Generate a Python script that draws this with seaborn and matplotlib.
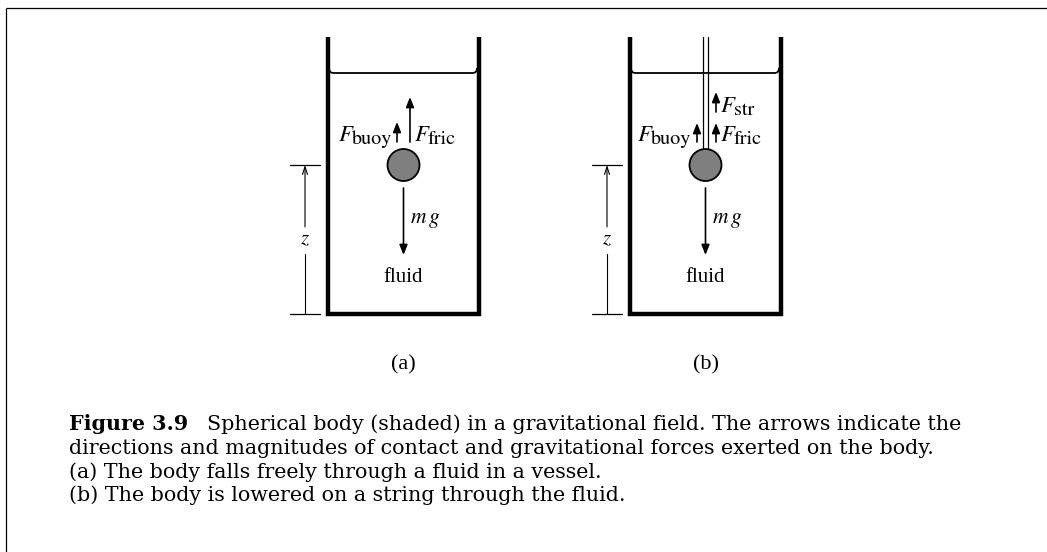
import numpy as np
import matplotlib
matplotlib.use("Agg")
import matplotlib.pyplot as plt
import seaborn as sns
from matplotlib.patches import Circle, PathPatch
from matplotlib.path import Path

sns.set_theme(style="white")
plt.rcParams['font.family'] = ['Liberation Serif', 'DejaVu Serif']
plt.rcParams['mathtext.fontset'] = 'stix'
plt.rcParams['text.color'] = 'black'

# ---- data -------------------------------------------------------------
panels = ["(a)", "(b)"]
panel_dx = [0, 302]                     # horizontal offset of each panel
up_forces_a = ["buoy", "fric"]          # upward contact forces, panel a
up_len_a = [20, 45]                     # arrow lengths (px)
up_forces_b = ["buoy", "fric", "str"]   # panel b
up_len_b = [19, 19, 20]
mg_len = [67, 67]
caption_lines = [
    "Spherical body (shaded) in a gravitational field. The arrows indicate the",
    "directions and magnitudes of contact and gravitational forces exerted on the body.",
    "(a) The body falls freely through a fluid in a vessel.",
    "(b) The body is lowered on a string through the fluid.",
]
caption_head = "Figure 3.9"

W, H = 1047, 552
fig = plt.figure(figsize=(W / 100, H / 100), dpi=100)
ax = fig.add_axes([0, 0, 1, 1])
ax.set_xlim(0, W)
ax.set_ylim(H, 0)
ax.axis("off")
renderer = fig.canvas.get_renderer()

def width_px(t):
    bb = t.get_window_extent(renderer=renderer)
    return bb.width

# frame (top and left only)
ax.plot([5.5, W], [7.5, 7.5], color="black", lw=0.9, solid_capstyle="butt")
ax.plot([5.5, 5.5], [7.5, H], color="black", lw=0.9, solid_capstyle="butt")

def arrow(x, y0, y1, lw=1.2):
    ax.annotate("", xy=(x, y1), xytext=(x, y0),
                arrowprops=dict(arrowstyle="-|>,head_length=0.6,head_width=0.24",
                                mutation_scale=10, lw=lw, color="black",
                                shrinkA=0, shrinkB=0))

F_SIZE, SUB_SIZE = 16.5, 14.5
def force_label(x, y, sub, ha):
    """Italic F with upright subscript, y = baseline of F."""
    tF = ax.text(0, y, "F", fontsize=F_SIZE, family="STIXGeneral", style="italic",
                 ha="left", va="baseline")
    tS = ax.text(0, y + 3, sub, fontsize=SUB_SIZE, family="STIXGeneral",
                 ha="left", va="baseline")
    wF, wS = width_px(tF), width_px(tS)
    x0 = x if ha == "left" else x - (wF + wS - 1)
    tF.set_x(x0)
    tS.set_x(x0 + wF - 1)

for p, (lab, dx) in enumerate(zip(panels, panel_dx)):
    xl, xr = 327.5 + dx, 478.5 + dx
    ytop, ybot = 37, 313.5
    # vessel walls
    sns.lineplot(x=[xl, xl, xr, xr], y=[ytop, ybot, ybot, ytop], sort=False,
                 estimator=None, color="black", lw=3.2, ax=ax)
    ax.lines[-1].set_solid_joinstyle("miter")
    ax.lines[-1].set_solid_capstyle("butt")
    # fluid surface with small meniscus
    ys = 73
    verts = [(xl + 1.5, ys - 5), (xl + 1.5, ys), (xl + 6, ys),
             (xr - 6, ys), (xr - 1.5, ys), (xr - 1.5, ys - 5)]
    codes = [Path.MOVETO, Path.CURVE3, Path.CURVE3, Path.LINETO, Path.CURVE3, Path.CURVE3]
    ax.add_patch(PathPatch(Path(verts, codes), fill=False, lw=1.3, edgecolor="black"))
    # ball
    cx, cy, r = 403.5 + dx, 165, 16
    ax.add_patch(Circle((cx, cy), r, facecolor="#7f7f7f", edgecolor="black", lw=1.3, zorder=3))
    # weight arrow
    arrow(cx, cy + 23, cy + 23 + mg_len[p])
    ax.text(cx + 7, 220, r"$m\,g$", fontsize=15.5, va="center", ha="left")
    ax.text(cx, 278, "fluid", fontsize=15, va="center", ha="center")
    # z dimension
    zx = 305 + dx
    ax.plot([zx - 15, zx + 15], [164.5, 164.5], color="black", lw=0.9)
    ax.plot([zx - 15, zx + 15], [313.5, 313.5], color="black", lw=0.9)
    ax.plot([zx, zx], [313.5, 254], color="black", lw=0.8)
    ax.annotate("", xy=(zx, 165), xytext=(zx, 227),
                arrowprops=dict(arrowstyle="->,head_length=0.55,head_width=0.18",
                                mutation_scale=10, lw=0.8, color="black",
                                shrinkA=0, shrinkB=0))
    ax.text(zx, 240, r"$z$", fontsize=15, va="center", ha="center")
    # panel label
    ax.text(cx, 365, lab, fontsize=16, va="center", ha="center")

    if p == 0:
        arrow(397, 142, 142 - up_len_a[0])
        force_label(392, 141, up_forces_a[0], "right")
        arrow(410, 142, 142 - up_len_a[1])
        force_label(415, 141, up_forces_a[1], "left")
    else:
        # string (double line)
        for sx in (cx - 2.3, cx + 2.3):
            ax.plot([sx, sx], [ytop, cy - r + 1], color="black", lw=0.9)
        arrow(697, 142, 142 - up_len_b[0])
        force_label(691, 141, up_forces_b[0], "right")
        arrow(716, 142, 142 - up_len_b[1])
        force_label(721, 141, up_forces_b[1], "left")
        arrow(716, 112, 112 - up_len_b[2])
        force_label(721, 112, up_forces_b[2], "left")

# caption (wide serif to match the reference's text extents)
CAP = 14.9
CAPFONT = "DejaVu Serif"
baselines = [430, 454, 477.5, 501]
t = ax.text(69, baselines[0], caption_head, fontsize=CAP, fontweight="bold",
            family=CAPFONT, ha="left", va="baseline")
x_after = 69 + width_px(t) + 19
ax.text(x_after, baselines[0], caption_lines[0], fontsize=CAP, family=CAPFONT,
        ha="left", va="baseline")
for yb, line in zip(baselines[1:], caption_lines[1:]):
    ax.text(69, yb, line, fontsize=CAP, family=CAPFONT, ha="left", va="baseline")

fig.savefig("out.png", dpi=100)
